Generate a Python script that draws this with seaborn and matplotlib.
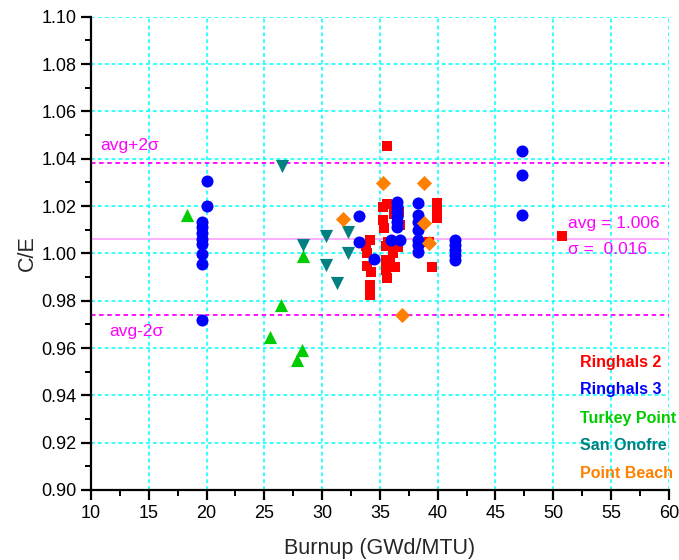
import numpy as np
import pandas as pd
import matplotlib
matplotlib.use('Agg')
import matplotlib.pyplot as plt
from matplotlib.ticker import MultipleLocator
import seaborn as sns

# Data
r2_burnup = [35.61, 35.26, 35.61, 36.21, 36.64, 36.73, 35.26, 35.35, 34.13, 33.79,
             33.88, 33.88, 34.22, 34.13, 34.13, 35.52, 36.12, 36.12, 35.69, 35.52,
             35.87, 36.30, 35.52, 35.61, 36.56, 39.93, 39.93, 39.93, 39.24, 39.50,
             50.74]
r2_ce = [1.0455, 1.0197, 1.0209, 1.0167, 1.0175, 1.0120, 1.0142, 1.0108, 1.0057, 1.0032,
         1.0002, 0.9947, 0.9922, 0.9867, 0.9825, 1.0032, 1.0036, 1.0002, 1.0049, 0.9973,
         0.9973, 0.9943, 0.9930, 0.9896, 1.0027, 1.0214, 1.0180, 1.0150, 1.0049, 0.9943,
         1.0074]

r3_burnup = [20.05, 20.05, 19.6, 19.6, 19.6, 19.6, 19.6, 19.6, 19.6, 19.6,
             33.18, 33.18, 34.5,
             36.44, 36.44, 36.44, 36.44, 36.44, 36.44, 36.0, 36.7,
             38.31, 38.31, 38.31, 38.31, 38.31, 38.31, 38.31,
             41.5, 41.5, 41.5, 41.5, 41.5,
             47.3, 47.3, 47.3]
r3_ce = [1.0305, 1.0202, 1.0134, 1.0110, 1.0085, 1.0061, 1.0040, 0.9998, 0.9954, 0.9719,
         1.0156, 1.0050, 0.9977,
         1.0218, 1.0197, 1.0176, 1.0154, 1.0133, 1.0112, 1.0057, 1.0057,
         1.0212, 1.0163, 1.0134, 1.0099, 1.0057, 1.0036, 1.0008,
         1.0057, 1.0036, 1.0015, 0.9994, 0.9973,
         1.0433, 1.0332, 1.0163]

tp_burnup = [18.3, 26.4, 25.5, 28.3, 27.8, 28.37]
tp_ce = [1.0163, 0.9783, 0.9646, 0.9590, 0.9548, 0.9987]

so_burnup = [26.5, 28.37, 30.3, 32.26, 32.23, 30.3, 31.25]
so_ce = [1.0370, 1.0036, 1.0074, 1.0092, 1.0001, 0.9951, 0.9874]

pb_burnup = [35.29, 38.8, 31.77, 38.8, 39.24, 36.93]
pb_ce = [1.0299, 1.0297, 1.0147, 1.0128, 1.0043, 0.9739]

plants = ['Ringhals 2', 'Ringhals 3', 'Turkey Point', 'San Onofre', 'Point Beach']
colors = ['#FF0000', '#0000FF', '#00CC00', '#008080', '#FF8000']
markers = ['s', 'o', '^', 'v', 'D']
msizes = [60, 75, 90, 90, 60]

avg = 1.006
sigma = 0.016

df = pd.concat([
    pd.DataFrame({'Burnup': r2_burnup, 'CE': r2_ce, 'Plant': 'Ringhals 2'}),
    pd.DataFrame({'Burnup': r3_burnup, 'CE': r3_ce, 'Plant': 'Ringhals 3'}),
    pd.DataFrame({'Burnup': tp_burnup, 'CE': tp_ce, 'Plant': 'Turkey Point'}),
    pd.DataFrame({'Burnup': so_burnup, 'CE': so_ce, 'Plant': 'San Onofre'}),
    pd.DataFrame({'Burnup': pb_burnup, 'CE': pb_ce, 'Plant': 'Point Beach'}),
], ignore_index=True)

sns.set_style('ticks')
plt.rcParams['font.family'] = ['Liberation Sans', 'DejaVu Sans']

fig = plt.figure(figsize=(6.79, 5.60), dpi=100)
ax = fig.add_axes([0.134, 0.125, 0.851, 0.845])

for plant, c, m, s in zip(plants, colors, markers, msizes):
    sns.scatterplot(data=df[df['Plant'] == plant], x='Burnup', y='CE', color=c,
                    marker=m, s=s, linewidth=0, ax=ax, legend=False, zorder=3)

# reference lines
ax.axhline(avg, color='#FF99FF', lw=1.1, zorder=2)
ax.axhline(avg + 2 * sigma, color='#FF00FF', lw=1.3, ls=(0, (2.5, 2)), zorder=2)
ax.axhline(avg - 2 * sigma, color='#FF00FF', lw=1.3, ls=(0, (2.5, 2)), zorder=2)

ax.set_xlim(10, 60)
ax.set_ylim(0.90, 1.10)
ax.xaxis.set_major_locator(MultipleLocator(5))
ax.xaxis.set_minor_locator(MultipleLocator(2.5))
ax.yaxis.set_major_locator(MultipleLocator(0.02))
ax.yaxis.set_minor_locator(MultipleLocator(0.01))
ax.yaxis.set_major_formatter(matplotlib.ticker.FormatStrFormatter('%.2f'))

ax.grid(True, which='major', color='#00FFFF', ls=(0, (2.5, 2)), lw=1.1)
sns.despine(ax=ax)
for sp in ['left', 'bottom']:
    ax.spines[sp].set_linewidth(1.6)
    ax.spines[sp].set_color('black')
ax.tick_params(which='major', direction='out', length=7, width=1.6, labelsize=13, colors='black')
ax.tick_params(which='minor', direction='out', length=4, width=1.4, colors='black')

ax.set_xlabel('Burnup (GWd/MTU)', fontsize=15.5, labelpad=12)
ax.set_ylabel('C/E', fontsize=15.5, labelpad=2)

ax.text(10.8, 1.0455, 'avg+2σ', color='#FF00FF', fontsize=12.5, va='center')
ax.text(11.6, 0.9668, 'avg-2σ', color='#FF00FF', fontsize=12.5, va='center')
ax.text(51.3, 1.0125, 'avg = 1.006', color='#FF00FF', fontsize=12.5, va='center')
ax.text(51.3, 1.0015, 'σ =  0.016', color='#FF00FF', fontsize=12.5, va='center')

label_y = [0.954, 0.9423, 0.9304, 0.9186, 0.9068]
for plant, c, yy in zip(plants, colors, label_y):
    ax.text(52.3, yy, plant, color=c, fontsize=11.5, fontweight='bold', va='center')

fig.savefig('out.png', dpi=100)
